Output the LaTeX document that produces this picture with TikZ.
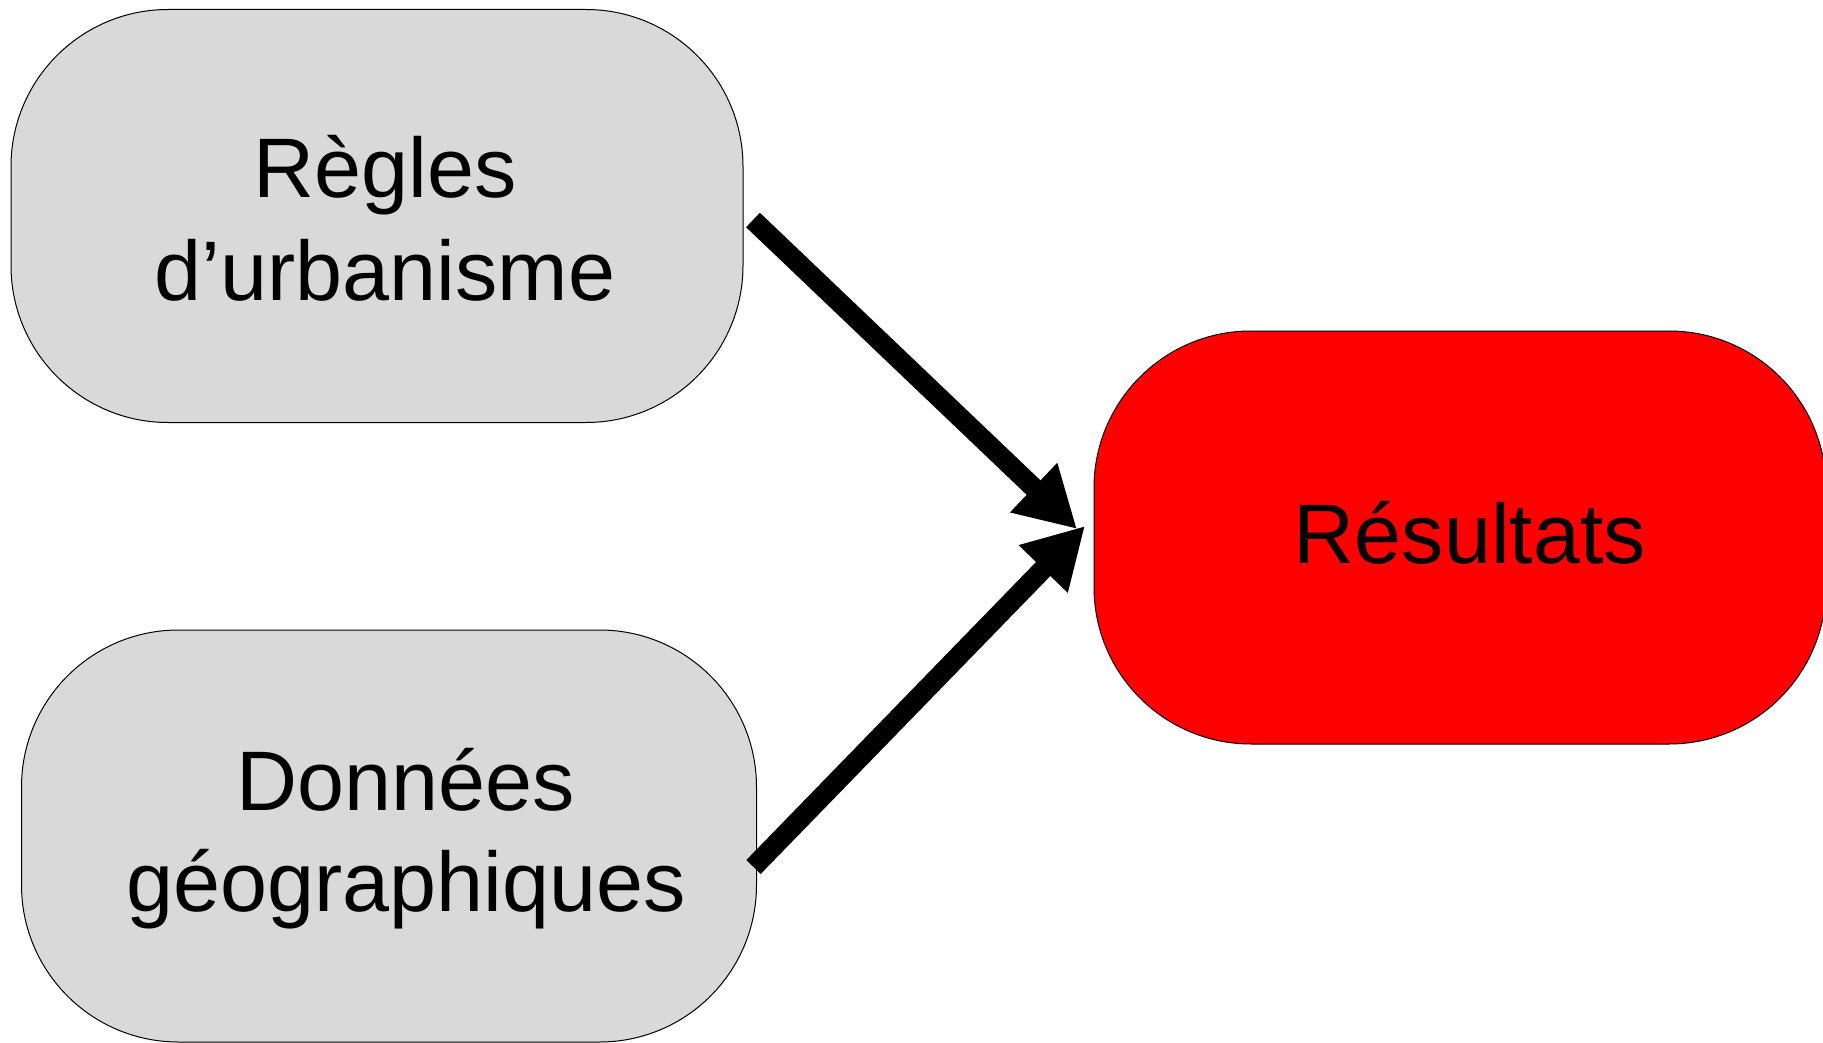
\documentclass[tikz,border=0pt]{standalone}
\usepackage{fontspec}
\setmainfont{Liberation Sans}
\usetikzlibrary{arrows.meta}
\definecolor{boxgray}{HTML}{D9D9D9}
\definecolor{boxred}{HTML}{FF0000}
\begin{document}
\begin{tikzpicture}[x=1pt,y=-1pt,
  stadium/.style={draw=black, line width=1pt, rounded corners=157pt,
    minimum width=732pt, minimum height=413pt, inner sep=0pt, outer sep=0pt},
  txt/.style={anchor=base, inner sep=0pt, font=\fontsize{84.5}{102}\selectfont},
  flow/.style={line width=20pt, -{Triangle[length=60pt,width=64pt]}}]
  \useasboundingbox (0,0) rectangle (1823,1043);

  % boxes
  \node[stadium, fill=boxgray] (regles) at (377,216) {};
  \node[stadium, fill=boxgray, minimum width=735pt, minimum height=412pt] (donnees) at (389,836) {};
  \node[stadium, fill=boxred] (resultats) at (1460,537.5) {};

  % labels
  \node[txt] (regles1) at ([shift={(8,-18.4)}]regles.center) {Règles};
  \node[txt] (regles2) at ([shift={(8,84)}]regles.center) {d’urbanisme};
  \node[txt] (donnees1) at ([shift={(17,-26)}]donnees.center) {Données};
  \node[txt] (donnees2) at ([shift={(17,75.7)}]donnees.center) {géographiques};
  \node[txt] (resultats1) at ([shift={(10,26.4)}]resultats.center) {Résultats};

  % connectors
  \draw[flow] ([shift={(10,4)}]regles.east) -- ([shift={(-17,-8.5)}]resultats.west);
  \draw[flow] ([shift={(-3,31)}]donnees.east) -- ([shift={(-9,-11.5)}]resultats.west);
\end{tikzpicture}
\end{document}
